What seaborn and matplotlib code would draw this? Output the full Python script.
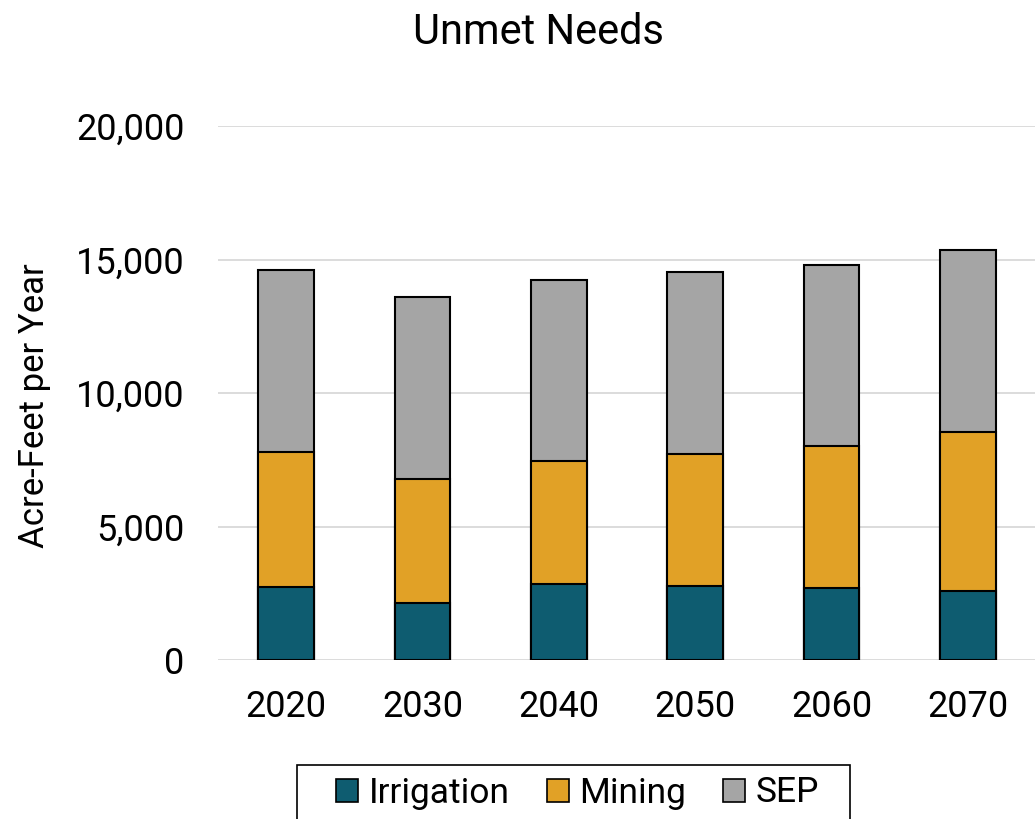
import pandas as pd
import matplotlib.pyplot as plt
import seaborn as sns
from matplotlib.patches import Patch, Rectangle

# values (acre-feet per year)
years = ['2020', '2030', '2040', '2050', '2060', '2070']
irrigation = [2740, 2140, 2850, 2790, 2700, 2590]
mining = [5050, 4650, 4610, 4930, 5300, 5960]
sep = [6800, 6800, 6790, 6800, 6810, 6800]

colors = {'Irrigation': '#0e5c70', 'Mining': '#e1a126', 'SEP': '#a5a5a5'}

df = pd.DataFrame({'Year': years, 'Irrigation': irrigation, 'Mining': mining, 'SEP': sep})
# cumulative heights for stacking
df['cum_irr'] = df['Irrigation']
df['cum_min'] = df['cum_irr'] + df['Mining']
df['cum_sep'] = df['cum_min'] + df['SEP']

sns.set_style("white")
plt.rcParams['font.family'] = ['Roboto', 'DejaVu Sans']
plt.rcParams['text.color'] = 'black'

fig = plt.figure(figsize=(10.35, 8.19), dpi=100)
ax = fig.add_axes([218 / 1035, 1 - 660 / 819, 818 / 1035, 534 / 819])

for col, name in [('cum_sep', 'SEP'), ('cum_min', 'Mining'), ('cum_irr', 'Irrigation')]:
    sns.barplot(data=df, x='Year', y=col, color=colors[name], width=0.41,
                edgecolor='black', linewidth=1.5, saturation=1, ax=ax)

ax.set_ylim(0, 20000)
ax.set_xlim(-0.5, 5.5)
ax.set_yticks(range(0, 20001, 5000))
ax.yaxis.set_major_formatter(plt.FuncFormatter(lambda v, p: f'{int(v):,}'))
ax.grid(axis='y', color='#d9d9d9', linewidth=1.3)
ax.set_axisbelow(True)
for s in ax.spines.values():
    s.set_visible(False)
ax.tick_params(axis='both', length=0, labelsize=26, labelcolor='black')
ax.tick_params(axis='y', pad=24)
ax.tick_params(axis='x', pad=21)
ax.set_xlabel('')
ax.set_ylabel('Acre-Feet per Year', fontsize=25, va='center', color='black')
ax.yaxis.set_label_coords((35 - 218) / 818, (660 - 406) / 534)

fig.text(538 / 1035, 1 - 32 / 819, 'Unmet Needs', fontsize=30, ha='center', va='center', color='black')

# legend box drawn as a plain rectangle, legend itself frameless
fig.patches.append(Rectangle((297 / 1035, -0.01), (850 - 297) / 1035, (819 - 765) / 819 + 0.01,
                             transform=fig.transFigure, fill=False, edgecolor='black', linewidth=1.2))
handles = [Patch(facecolor=colors[n], edgecolor='black', linewidth=1.2, label=n)
           for n in ['Irrigation', 'Mining', 'SEP']]
leg = fig.legend(handles=handles, loc='center', ncol=3,
                 bbox_to_anchor=(577.5 / 1035, 1 - 793 / 819), fontsize=25.5,
                 frameon=False, handlelength=0.62, handleheight=0.62, handletextpad=0.3,
                 columnspacing=1.04, borderpad=0, borderaxespad=0)
for t in leg.get_texts():
    t.set_color('black')

plt.savefig('out.png', dpi=100)
